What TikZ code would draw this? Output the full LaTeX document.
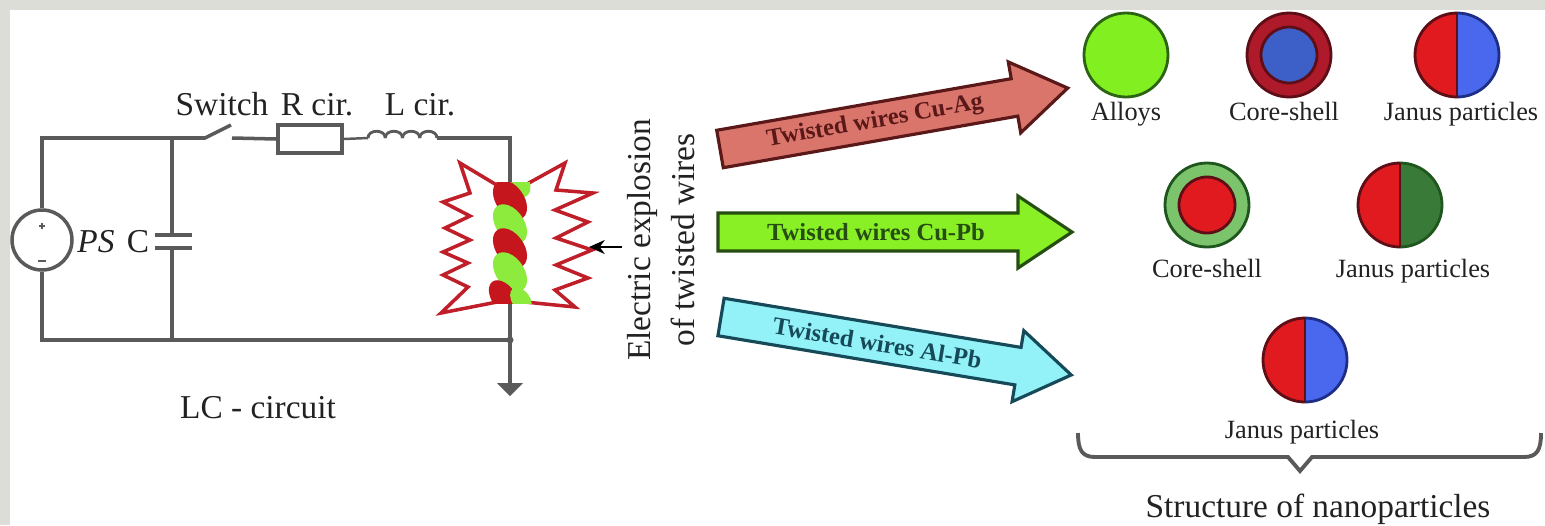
\documentclass[tikz,border=0pt]{standalone}
\usepackage{fontspec}
\setmainfont{Liberation Serif}
\usetikzlibrary{arrows.meta,calc}

\definecolor{wiregray}{HTML}{5A5A5A}
\definecolor{labelgray}{HTML}{222222}
\definecolor{bggray}{HTML}{DDDDD8}
\definecolor{boom}{HTML}{C01E28}
\definecolor{strandred}{HTML}{C4161C}
\definecolor{strandgreen}{HTML}{8CEB3C}
\definecolor{agfill}{HTML}{DA756C}
\definecolor{agline}{HTML}{5A1818}
\definecolor{pbfill}{HTML}{8AF026}
\definecolor{pbline}{HTML}{264E12}
\definecolor{alfill}{HTML}{92F2F8}
\definecolor{alline}{HTML}{174A58}
\definecolor{alloyfill}{HTML}{82F020}
\definecolor{alloyline}{HTML}{2C6414}
\definecolor{shellred}{HTML}{AE1A2A}
\definecolor{shelldark}{HTML}{5E0E16}
\definecolor{coreblue}{HTML}{3C5FC8}
\definecolor{janred}{HTML}{E01A1E}
\definecolor{janblue}{HTML}{4A68EE}
\definecolor{janbluedark}{HTML}{1E2E86}
\definecolor{shellgreen}{HTML}{7CC46C}
\definecolor{shellgreendark}{HTML}{1E561E}
\definecolor{jangreen}{HTML}{3A7A38}

% block arrow: name, tail x, tail y, angle, length, fill, line/text colour, text
\newcommand\wirearrow[8]{%
  \begin{scope}[shift={(#2,#3)}, rotate=#4]
    \filldraw[fill=#6, draw=#7, line width=1.8pt, line join=miter]
      (0,-19) -- (#5-54,-19) -- (#5-54,-36) -- (#5,0) -- (#5-54,36) -- (#5-54,19) -- (0,19) -- cycle;
    \node[arrowtext, text=#7, rotate=#4] (#1) at ({(#5-54)/2+8},0) {#8};
  \end{scope}}

% two-coloured (Janus) particle: name, x, y, left fill, left line, right fill, right line, divider
\newcommand\janusdot[8]{%
  \coordinate (#1) at (#2,#3);
  \begin{scope}
    \clip (#2-50,#3-50) rectangle (#2,#3+50);
    \filldraw[fill=#4, draw=#5, line width=1.6pt] (#1) circle (42);
  \end{scope}
  \begin{scope}
    \clip (#2,#3-50) rectangle (#2+50,#3+50);
    \filldraw[fill=#6, draw=#7, line width=1.6pt] (#1) circle (42);
  \end{scope}
  \draw[draw=#8, line width=1.6pt] (#2,#3-42) -- (#2,#3+42);}

% core-shell particle: name, x, y, shell fill, shell line, core fill, core line
\newcommand\coreshell[7]{%
  \coordinate (#1) at (#2,#3);
  \filldraw[fill=#4, draw=#5, line width=1.6pt] (#1) circle (42);
  \filldraw[fill=#6, draw=#7, line width=1.6pt] (#1) circle (28);}

\begin{document}
\begin{tikzpicture}[x=0.02cm, y=-0.02cm,
  wire/.style={draw=wiregray, line width=2pt},
  biglabel/.style={font=\fontsize{19}{25}\selectfont, text=labelgray, inner sep=0pt},
  smalllabel/.style={font=\fontsize{15}{18}\selectfont, text=labelgray, inner sep=0pt},
  arrowtext/.style={font=\bfseries\fontsize{14}{16}\selectfont, inner sep=0pt},
  boomline/.style={draw=boom, fill=white, line width=2pt, line join=miter},
  strand/.style={rotate around={-55:#1}},
]
\useasboundingbox (0,0) rectangle (1545,525);
\fill[bggray] (0,0) rectangle (1545,525);
\fill[white] (10,10) rectangle (1545,525);

% ---------- LC circuit ----------
\coordinate (TL) at (42,138);
\coordinate (CT) at (172,138);
\coordinate (TR) at (510,138);
\coordinate (BL) at (42,340);
\coordinate (CB) at (172,340);
\coordinate (BR) at (510,340);
\coordinate (GND) at (510,384);

\node[circle, draw=wiregray, line width=2pt, minimum size=1.2cm, inner sep=0pt] (ps) at (42,240) {};
\draw[wiregray, line width=1.2pt] (39,226) -- (45,226) (42,223) -- (42,229);
\draw[wiregray, line width=1.4pt] (38,261) -- (46,261);

\draw[wire] (ps.north) -- (TL) -- (CT);
\draw[wire] (ps.south) -- (BL) -- (CB) -- (BR);

% capacitor
\draw[wire] (CT) -- (172,235);
\draw[wire] (172,248) -- (CB);
\draw[wire, line width=2.6pt] (155,235) -- (192,235);
\draw[wire, line width=2.6pt] (155,248) -- (192,248);

% switch, resistor, inductor
\draw[wire] (CT) -- (205,138) -- (231,125);
\node[draw=wiregray, line width=2pt, minimum width=1.28cm, minimum height=0.56cm, inner sep=0pt] (res) at (310,139) {};
\draw[wire] (232,138) -- (res.west);
\draw[wire, line width=1.4pt] (res.east) -- (368,138);
\foreach \k in {0,...,3}
  \draw[wire, line width=1.6pt] ({368+17.25*\k},138) .. controls ({368+17.25*\k},129) and ({368+17.25*(\k+1)},129) .. ({368+17.25*(\k+1)},138);
\draw[wire] (437,138) -- (TR) -- (BR) -- (GND);
\fill[wiregray] (BR) circle (3.5);
\fill[wiregray] (497,383) -- (523,383) -- (510,396) -- cycle;

% explosion around the twisted wires
\draw[boomline] (495,184) -- (460,163) -- (470,193) -- (443,202) -- (470,216) -- (445,228) -- (470,240)
  -- (443,252) -- (468,263) -- (443,275) -- (468,287) -- (441,313) -- (497,302)
  -- (525,302) -- (575,307) -- (555,290) -- (588,278) -- (556,265) -- (592,250) -- (556,238)
  -- (588,222) -- (555,210) -- (593,193) -- (556,190) -- (565,163) -- (527,184) -- cycle;

% twisted pair of wires
\begin{scope}
  \clip (480,182) rectangle (540,303);
  \fill[strandgreen, strand={(514,178)}] (514,178) ellipse [x radius=22, y radius=13];
  \fill[strandred, strand={(510,200)}] (510,200) ellipse [x radius=22, y radius=14];
  \fill[strandgreen, strand={(510,224)}] (510,224) ellipse [x radius=22, y radius=14];
  \fill[strandred, strand={(510,248)}] (510,248) ellipse [x radius=22, y radius=14];
  \fill[strandgreen, strand={(510,272)}] (510,272) ellipse [x radius=22, y radius=14];
  \fill[strandred, strand={(504,298)}] (504,298) ellipse [x radius=20, y radius=12];
  \fill[strandgreen, strand={(521,300)}] (521,300) ellipse [x radius=14, y radius=9];
\end{scope}

% circuit labels
\node[biglabel, anchor=base] (lsw) at (222,115) {Switch};
\node[biglabel, anchor=base] (lr) at (317,115) {R cir.};
\node[biglabel, anchor=base] (ll) at (420,115) {L cir.};
\node[biglabel, anchor=base] (lps) at (96,252) {\itshape PS};
\node[biglabel, anchor=base] (lc) at (138,252) {C};
\node[biglabel, anchor=base] (llc) at (258,418) {LC - circuit};

% explosion caption and pointer
\node[biglabel, rotate=90, align=center] (expl) at (661,240) {Electric explosion\\of twisted wires};
\coordinate (ptrtail) at (622,247);
\coordinate (ptrhead) at (589,247);
\draw[black, line width=1pt, -{Stealth[length=9pt, width=8pt]}] (ptrtail) -- (ptrhead);

% ---------- block arrows ----------
\wirearrow{aag}{720}{149}{9.94}{353}{agfill}{agline}{Twisted wires Cu-Ag}
\wirearrow{apb}{718}{232}{0}{354}{pbfill}{pbline}{Twisted wires Cu-Pb}
\wirearrow{aal}{721}{317}{-9.4}{355}{alfill}{alline}{Twisted wires Al-Pb}

% ---------- nanoparticles ----------
\coordinate (alloy) at (1126,55);
\filldraw[fill=alloyfill, draw=alloyline, line width=1.6pt] (alloy) circle (42);
\coreshell{cs1}{1289}{55}{shellred}{shelldark}{coreblue}{shelldark}
\janusdot{jn1}{1457}{55}{janred}{shelldark}{janblue}{janbluedark}{shelldark}

\coreshell{cs2}{1207}{205}{shellgreen}{shellgreendark}{janred}{shelldark}
\janusdot{jn2}{1400}{205}{janred}{shelldark}{jangreen}{shellgreendark}{shelldark}

\janusdot{jn3}{1305}{360}{janred}{shelldark}{janblue}{janbluedark}{shelldark}

\node[smalllabel, anchor=base] (talloy) at (1126,120) {Alloys};
\node[smalllabel, anchor=base] (tcs1) at (1284,120) {Core-shell};
\node[smalllabel, anchor=base] (tjn1) at (1461,120) {Janus particles};
\node[smalllabel, anchor=base] (tcs2) at (1207,277) {Core-shell};
\node[smalllabel, anchor=base] (tjn2) at (1413,277) {Janus particles};
\node[smalllabel, anchor=base] (tjn3) at (1302,438) {Janus particles};

% brace and caption
\draw[wiregray, line width=2.2pt, line join=miter]
  (1078,433) .. controls (1078,450) and (1082,457) .. (1095,457) -- (1288,457) -- (1300,471)
  -- (1312,457) -- (1524,457) .. controls (1537,457) and (1541,450) .. (1541,433);
\node[biglabel, anchor=base] (struct) at (1318,517) {Structure of nanoparticles};
\end{tikzpicture}
\end{document}
